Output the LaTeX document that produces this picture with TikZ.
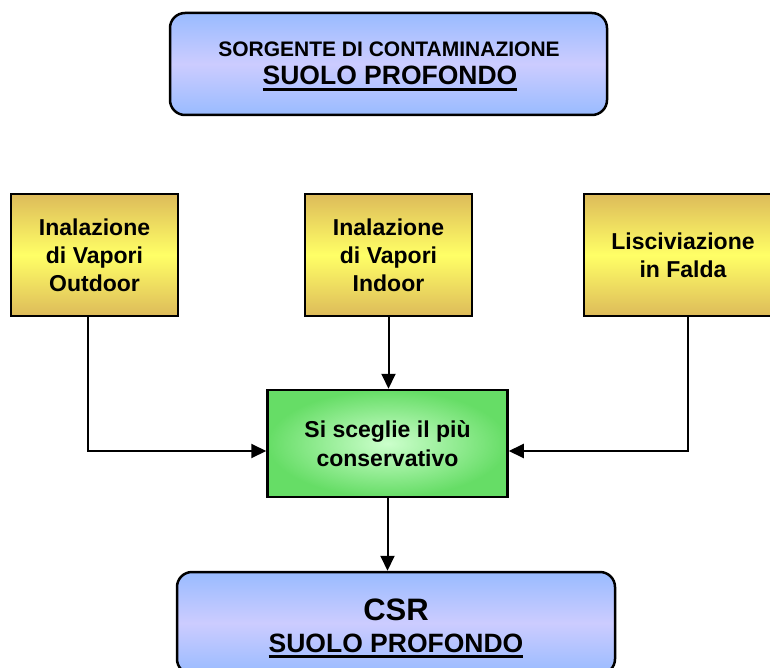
\documentclass[tikz,border=0pt]{standalone}
\usepackage{fontspec}
\setmainfont{Liberation Sans}
\usetikzlibrary{arrows.meta,shadings}
\definecolor{blueedge}{HTML}{99BBFF}
\definecolor{bluemid}{HTML}{CCCCFF}
\definecolor{yeledge}{HTML}{DDBB5A}
\definecolor{yelmid}{HTML}{FFFF66}
\definecolor{greenout}{HTML}{66DD66}
\definecolor{greenin}{HTML}{CCFFCC}
\newcommand\myul[1]{\setbox0\hbox{#1}\rlap{\rule[-6pt]{\wd0}{3pt}}\box0}
\tikzset{
  bluebox/.style={draw=black, line width=2.5pt, rounded corners=15pt,
    top color=blueedge, bottom color=blueedge, middle color=bluemid,
    minimum width=437pt, minimum height=102pt, inner sep=0pt},
  yelbox/.style={draw=black, line width=2.5pt,
    top color=yeledge, bottom color=yeledge, middle color=yelmid,
    minimum height=122pt, inner sep=0pt, align=center,
    font=\bfseries\fontsize{23}{28}\selectfont},
  greenbox/.style={draw=black, line width=2.5pt,
    inner color=greenin, outer color=greenout,
    minimum width=240pt, minimum height=107pt, inner sep=0pt, align=center,
    font=\bfseries\fontsize{23}{28.5}\selectfont},
  txt/.style={inner sep=0pt, font=\bfseries},
  conn/.style={line width=2pt, -{Triangle[length=15pt,width=14pt]}}
}
\begin{document}
\begin{tikzpicture}[x=1pt,y=-1pt]
\clip (0,0) rectangle (770,668);
\fill[white] (0,0) rectangle (770,668);
% top box
\node[bluebox] (src) at (388.5,64) {};
\node[txt, anchor=base, font=\bfseries\fontsize{21}{25}\selectfont] (srct1) at (389,57) {SORGENTE DI CONTAMINAZIONE};
\node[txt, anchor=base, font=\bfseries\fontsize{26.5}{30}\selectfont] (srct2) at (390,85) {\myul{SUOLO PROFONDO}};
% yellow boxes
\node[yelbox, minimum width=167pt] (out) at (94.5,255) {Inalazione\\di Vapori\\Outdoor};
\node[yelbox, minimum width=167pt] (ind) at (388.5,255) {Inalazione\\di Vapori\\Indoor};
\node[yelbox, minimum width=198pt] (lis) at (683,255) {Lisciviazione\\in Falda};
% green box
\node[greenbox] (sel) at (387.5,443.5) {Si sceglie il più\\conservativo};
% bottom box
\node[bluebox, minimum width=438pt] (csr) at (396,623) {};
\node[txt, anchor=base, font=\bfseries\fontsize{31}{35}\selectfont] (csrt1) at (396,620) {CSR};
\node[txt, anchor=base, font=\bfseries\fontsize{26.5}{30}\selectfont] (csrt2) at (396,652) {\myul{SUOLO PROFONDO}};
% connectors
\coordinate (inl) at ([yshift=-7.5pt]sel.west);
\coordinate (inr) at ([yshift=-7.5pt]sel.east);
\draw[conn] (ind.south) -- (ind.south |- sel.north);
\draw[conn] (out.south -| 88,0) |- (inl);
\draw[conn] (lis.south -| 688,0) |- (inr);
\draw[conn] (sel.south) -- (sel.south |- csr.north);
\end{tikzpicture}
\end{document}
